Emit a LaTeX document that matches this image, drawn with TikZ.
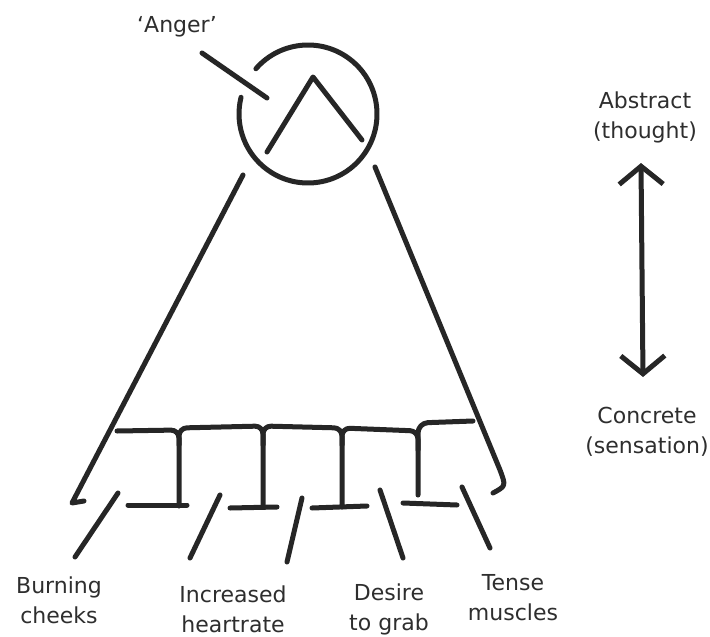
\documentclass[tikz,border=0pt]{standalone}
\usepackage{fontspec}
\setmainfont{DejaVu Sans}
\usetikzlibrary{arrows.meta}
\definecolor{marker}{HTML}{262626}
\definecolor{inktext}{HTML}{2E2E2E}

\begin{document}
\begin{tikzpicture}[
  x=1pt,
  y=-1pt,
  line join=round,
  line cap=round,
  pen/.style={draw=marker,line width=5pt},
  handtext/.style={font=\fontsize{22}{30}\selectfont,align=center,text=inktext,inner sep=0pt},
  barb/.style={{Straight Barb[length=18pt,width=44pt]}-{Straight Barb[length=18pt,width=44pt]}}
]
  \useasboundingbox[fill=white] (0,0) rectangle (710,637);

  % Labels, placed at the baseline of their last line.
  \node[handtext,anchor=base] (anger) at (177,32) {`Anger'};
  \node[handtext,anchor=base] (abstract) at (645,138) {Abstract\\(thought)};
  \node[handtext,anchor=base] (concrete) at (647,453) {Concrete\\(sensation)};
  \node[handtext,anchor=base] (burning) at (59,623) {Burning\\cheeks};
  \node[handtext,anchor=base] (heart) at (233,632) {Increased\\heartrate};
  \node[handtext,anchor=base] (desire) at (389,630) {Desire\\to grab};
  \node[handtext,anchor=base] (tense) at (513,620) {Tense\\muscles};

  % The concept circle with its caret and pointer.
  \coordinate (hub) at (308,114);
  \draw[pen] (hub) ++(221:69) arc[start angle=221,end angle=554,radius=69];
  \draw[pen] (267,152) -- (313,77) -- (362,140);
  \coordinate (angerfrom) at (202,53);
  \coordinate (angerto) at (267,98);
  \draw[pen] (angerfrom) -- (angerto);

  % Sides of the cone.
  \draw[pen] (243,175) -- (72,503) -- (84,501);
  \draw[pen] (375,167) -- (500,470) .. controls (506,486) .. (493,493);

  % The comb of sensations.
  \draw[pen,rounded corners=8pt] (117,431) -- (179,430) -- (179,506);
  \draw[pen,rounded corners=8pt] (179,445) -- (179,428) -- (263,426) -- (263,507);
  \draw[pen,rounded corners=8pt] (263,445) -- (263,426) -- (342,428) -- (342,507);
  \draw[pen,rounded corners=8pt] (342,445) -- (342,428) -- (418,431) -- (418,495);
  \draw[pen,rounded corners=10pt] (418,450) -- (418,423) -- (473,421);
  \draw[pen] (128,505) -- (187,505);
  \draw[pen] (230,508) -- (277,507);
  \draw[pen] (312,508) -- (367,506);
  \draw[pen] (403,503) -- (457,505);

  % Pointers down to the labels.
  \coordinate (burnfrom) at (118,493);
  \coordinate (burnto) at (75,557);
  \coordinate (heartfrom) at (220,495);
  \coordinate (heartto) at (190,558);
  \coordinate (desirefrom) at (302,498);
  \coordinate (desireto) at (287,562);
  \coordinate (tensefrom) at (380,490);
  \coordinate (tenseto) at (403,558);
  \coordinate (musclefrom) at (462,487);
  \coordinate (muscleto) at (490,548);
  \foreach \a/\b in {burnfrom/burnto,heartfrom/heartto,desirefrom/desireto,tensefrom/tenseto,musclefrom/muscleto}
    \draw[pen] (\a) -- (\b);

  % Scale from abstract to concrete.
  \coordinate (abstip) at (641,163);
  \coordinate (contip) at (643,377);
  \draw[pen,barb] (abstip) -- (contip);
\end{tikzpicture}
\end{document}
